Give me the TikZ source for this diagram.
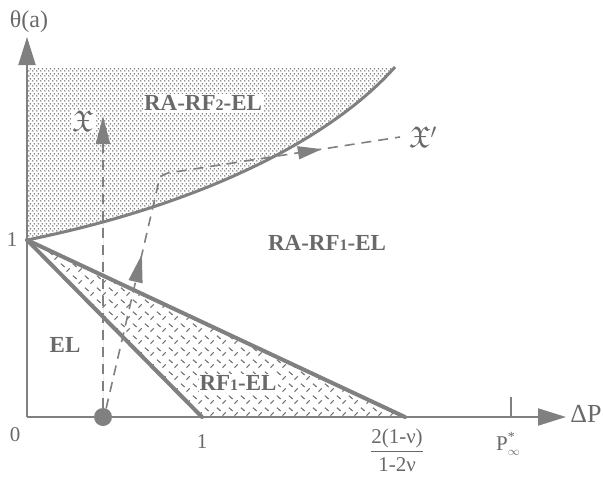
\documentclass[tikz,border=0pt]{standalone}
\usepackage{amssymb}
\usepackage{fontspec}
\setmainfont{Liberation Serif}
\usetikzlibrary{patterns,arrows.meta,decorations.markings}
\definecolor{lc}{RGB}{128,128,128}
\definecolor{tc}{RGB}{105,105,105}
\definecolor{pc}{RGB}{115,115,115}
\pgfdeclarepatternformonly{finedots}{\pgfqpoint{0pt}{0pt}}{\pgfqpoint{4pt}{5pt}}{\pgfqpoint{4pt}{5pt}}{%
  \pgfpathcircle{\pgfqpoint{1pt}{1.25pt}}{0.95pt}%
  \pgfpathcircle{\pgfqpoint{3pt}{3.75pt}}{0.95pt}%
  \pgfusepath{fill}}
\pgfdeclarepatternformonly{plate}{\pgfqpoint{0pt}{0pt}}{\pgfqpoint{12pt}{12pt}}{\pgfqpoint{12pt}{12pt}}{%
  \pgfsetlinewidth{1.2pt}%
  \pgfpathmoveto{\pgfqpoint{1pt}{10pt}}\pgfpathlineto{\pgfqpoint{5pt}{6.5pt}}%
  \pgfpathmoveto{\pgfqpoint{7pt}{1.5pt}}\pgfpathlineto{\pgfqpoint{10.5pt}{5pt}}%
  \pgfusepath{stroke}}
\begin{document}
\begin{tikzpicture}[x=1pt,y=-1pt,
  lbl/.style={text=tc,font=\fontsize{23}{23}\selectfont\bfseries},
  txt/.style={text=tc,font=\fontsize{21}{21}\selectfont},
  axisline/.style={draw=lc,line width=2pt},
  bigtip/.style={-{Triangle[length=28pt,width=17pt]}},
  thickline/.style={draw=lc,line width=4pt,line cap=round},
  curveline/.style={draw=lc,line width=3pt},
  dpath/.style={draw=lc,line width=1.6pt,dash pattern=on 10pt off 7pt},
  smalltip/.style={-{Triangle[length=28pt,width=14pt]}},
  whitebg/.style={fill=white,inner sep=1pt}]
\useasboundingbox (0,0) rectangle (603,477);
\coordinate (O) at (27,417);
\coordinate (Y1) at (27,240);
\coordinate (Ytip) at (27,37);
\coordinate (Xtip) at (566,417);
\coordinate (X1) at (202,417);
\coordinate (X2) at (405,417);
\coordinate (Ctop) at (395,67);
\coordinate (Tl) at (27,67);
\coordinate (Pt) at (511,417);
\coordinate (PtTop) at (511,397);
% shaded regions
\fill[pattern=finedots,pattern color=pc] (Y1) -- (Tl) -- (Ctop) .. controls (330,140) and (200,205) .. (Y1) -- cycle;
\fill[pattern=plate,pattern color=pc] (Y1) -- (X1) -- (X2) -- cycle;
% region labels
\node[lbl,whitebg] (rf2) at (203,103) {RA-RF{\fontsize{16}{16}\selectfont 2}-EL};
\node[lbl] (rf1) at (327,243) {RA-RF{\fontsize{16}{16}\selectfont 1}-EL};
\node[lbl] (el) at (65,345) {EL};
\node[lbl,whitebg] (rf1el) at (238,383) {RF{\fontsize{16}{16}\selectfont 1}-EL};
% boundaries
\draw[curveline] (Y1) .. controls (200,205) and (330,140) .. (Ctop);
\draw[thickline] (Y1) -- (X1);
\draw[thickline] (Y1) -- (X2);
% axes
\draw[axisline,bigtip,fill=lc] (O) -- (Ytip);
\draw[axisline,bigtip,fill=lc] (O) -- (Xtip);
\draw[axisline] (Pt) -- (PtTop);
% loading paths
\node[circle,fill=lc,minimum size=18pt,inner sep=0pt] (dot) at (103,417) {};
\coordinate (Xa) at (103,116);
\draw[dpath,smalltip,fill=lc] (dot.north) -- (Xa);
\node[text=tc,whitebg,font=\fontsize{30}{30}\selectfont] (X) at (83,121) {$\mathfrak{X}$};
\coordinate (b1) at (158,185);
\coordinate (b2) at (168,173);
\coordinate (Xe) at (400,137);
\draw[dpath,postaction={decorate},decoration={markings,
   mark=at position 158pt with {\arrow[fill=lc]{Triangle[length=28pt,width=14pt]}},
   mark=at position 402pt with {\arrow[fill=lc]{Triangle[length=24pt,width=13pt]}}}]
   (dot.70) -- (b1) .. controls (160,176) .. (b2) -- (Xe);
\node[text=tc,font=\fontsize{30}{30}\selectfont] (Xp) at (423,137) {$\mathfrak{X}'$};
% axis labels
\node[txt,font=\fontsize{24}{24}\selectfont] (theta) at (29,22) {θ(a)};
\node[txt,font=\fontsize{26}{26}\selectfont] (dP) at (586,414) {ΔP};
\node[txt] (zero) at (15,435) {0};
\node[txt] (oney) at (12,240) {1};
\node[txt] (onex) at (202,442) {1};
\node[txt] (frac) at (397,450) {$\displaystyle\frac{\mbox{2(1-ν)}}{\mbox{1-2ν}}$};
\node[txt] (Pinf) at (508,444) {P\rlap{\raisebox{9pt}{\fontsize{14}{14}\selectfont *}}\raisebox{-5pt}{\fontsize{12}{12}\selectfont$\infty$}};
\end{tikzpicture}
\end{document}
